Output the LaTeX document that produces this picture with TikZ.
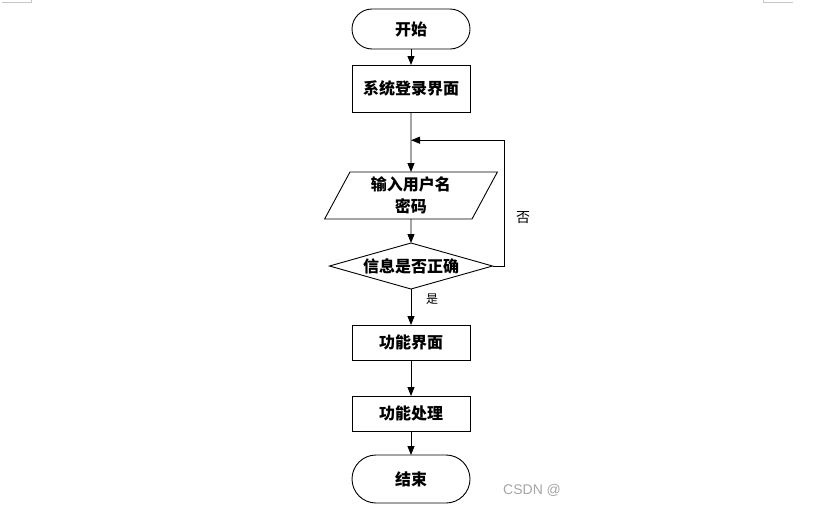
\documentclass[tikz,border=0pt]{standalone}
\usepackage{fontspec}
\newfontfamily\cjk{Noto Sans CJK SC}
\newfontfamily\wmfont{Liberation Sans}
\usetikzlibrary{arrows.meta,positioning,shapes.geometric,calc}

\begin{document}
\begin{tikzpicture}[
    x=1pt, y=-1pt,
    font=\cjk\bfseries\fontsize{16}{22}\selectfont,
    base/.style={draw, line width=0.9pt, align=center, inner sep=0pt, outer sep=0pt},
    term/.style={base, rounded corners=20pt, minimum width=118pt, minimum height=40pt},
    box/.style={base, minimum width=118pt, minimum height=35pt},
    io/.style={base, trapezium, trapezium left angle=66, trapezium right angle=114, trapezium stretches=true, minimum width=173pt, minimum height=47pt},
    decision/.style={base, diamond, aspect=3.5, minimum width=163pt, minimum height=46pt},
    arr/.style={-{Triangle[length=9pt,width=7pt]}, line width=0.9pt},
    lbl/.style={font=\cjk\fontsize{14}{16}\selectfont},
]
\useasboundingbox (0,0) rectangle (829,509);
\fill[white] (0,0) rectangle (829,509);

% page corner marks
\draw[gray!45, line width=1pt] (2,2) -- (31,2) -- (31,0);
\draw[gray!45, line width=1pt] (763,0) -- (763,2) -- (793,2);

% Start
\node[term] (start) at (411,29) {开始};

% Login
\node[box, minimum height=47pt, below=16pt of start] (login) {系统登录界面};

% Input
\node[io, below=60pt of login] (input) {输入用户名\\密码};

% Check
\node[decision, below=24pt of input] (verify) {信息是否正确};

% Functions
\node[box, below=36pt of verify] (menu) {功能界面};
\node[box, below=36pt of menu] (work) {功能处理};

% End
\node[term, minimum height=48pt, rounded corners=24pt, below=24pt of work] (stop) {结束};

% Loop target
\coordinate (back) at ($(login.south)!0.47!(input.north)$);

% Arrows
\draw[arr] (start) -- (login);
\draw[arr] (login) -- (input);
\draw[arr] (input) -- (verify);
\draw[arr] (verify) -- (menu);
\draw[arr] (menu) -- (work);
\draw[arr] (work) -- (stop);
\draw[arr] (verify.east) -- ++(12,0) |- (back);

% Labels
\node[lbl] (no) at (523,218) {否};
\node[lbl, font=\cjk\fontsize{12}{14}\selectfont] (yes) at (432,299) {是};

% Watermark
\node[font=\wmfont\fontsize{14}{16}\selectfont, text=gray!70, anchor=west, inner sep=0pt] (mark) at (503,490) {CSDN @};
\end{tikzpicture}
\end{document}
